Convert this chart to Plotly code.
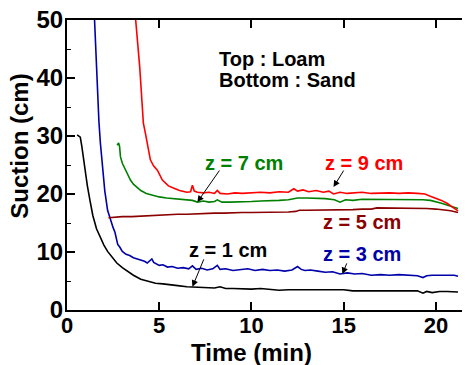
import plotly.graph_objects as go

# ---- data (time in min, suction in cm) ----
t_z1 = [0.55,0.72,0.8,0.9,1.0,1.1,1.25,1.4,1.6,1.8,2.0,2.2,2.4,2.7,3.0,3.3,3.6,4.0,4.4,4.8,
        5.2,5.6,6.0,6.5,7.0,7.5,8.0,8.3,8.6,9.0,9.5,10,10.5,11,11.5,12,12.5,13,13.5,14,
        14.5,15,15.5,16,16.5,17,17.5,18,18.5,19,19.3,19.5,19.8,20.2,20.6,21.0,21.2]
s_z1 = [30.2,29.8,28.3,25.9,23.5,21.5,18.8,16.3,14.0,12.5,11.2,10.1,9.3,8.1,7.3,6.6,6.0,5.3,4.9,4.6,
        4.5,4.4,4.2,4.0,3.9,3.9,3.8,4.0,3.7,3.7,3.6,3.6,3.7,3.6,3.4,3.5,3.5,3.5,3.4,3.5,
        3.4,3.5,3.3,3.3,3.4,3.3,3.3,3.3,3.3,3.3,2.9,3.2,3.0,3.2,3.2,3.1,3.1]

t_z3 = [1.48,1.58,1.65,1.73,1.81,1.9,1.97,2.05,2.12,2.2,2.3,2.4,2.5,2.6,2.68,2.75,2.85,3.0,3.2,3.4,
        3.6,3.8,4.0,4.2,4.35,4.5,4.6,4.7,4.85,5.0,5.2,5.45,5.7,6.0,6.3,6.6,6.8,6.9,7.0,7.3,
        7.6,7.9,8.15,8.3,8.6,9.0,9.4,9.8,10.2,10.6,11.0,11.4,11.8,12.2,12.5,12.7,12.9,13.2,13.6,14.0,
        14.4,14.8,15.2,15.6,16.0,16.5,17.0,17.5,18.0,18.5,19.0,19.3,19.5,19.8,20.1,20.5,21.0,21.2]
s_z3 = [51,43,36.2,32.5,28.8,25.5,22.4,20.5,19.0,17.2,16.2,15.0,14.2,13.4,12.3,11.3,10.9,10.1,9.6,9.4,
        9.0,8.8,8.5,8.4,8.1,8.5,8.8,8.2,7.9,7.7,7.8,7.4,7.5,7.2,7.3,7.1,7.6,7.2,7.0,7.2,
        6.9,7.1,7.7,7.0,7.1,6.8,6.9,7.1,6.8,7.0,6.8,6.9,6.7,6.9,7.5,7.0,6.8,6.9,6.7,6.5,
        6.6,6.2,6.4,6.2,6.3,6.0,6.1,6.0,6.1,6.0,5.9,5.6,5.9,6.0,6.0,6.0,6.0,5.8]

t_z5 = [2.25,2.5,3,3.5,4,4.5,5,5.5,6,6.5,7,7.5,8,8.5,9,9.5,10,10.5,11,11.5,
        12,12.4,12.6,13,13.5,14,14.5,15,15.5,16,16.5,16.8,17,17.5,18,18.5,19,19.5,20,20.4,
        20.8,21.2]
s_z5 = [15.9,16.0,16.1,16.1,16.2,16.3,16.4,16.4,16.5,16.5,16.6,16.6,16.7,16.7,16.8,16.8,16.8,16.8,16.9,16.9,
        16.9,17.0,17.2,17.2,17.2,17.3,17.3,17.3,17.3,17.4,17.4,17.6,17.6,17.6,17.6,17.5,17.6,17.5,17.4,17.3,
        17.1,16.8]

t_z7 = [2.72,2.8,2.85,2.9,3.0,3.17,3.3,3.44,3.6,3.8,4.0,4.3,4.6,5.0,5.4,5.8,6.2,6.5,6.8,7.07,
        7.4,7.7,8.0,8.15,8.4,8.8,9.2,9.6,10,10.5,11,11.5,12,12.5,13,13.5,14,14.5,14.8,15.1,
        15.5,16,16.5,17,17.5,18,18.5,19,19.3,19.7,20.0,20.3,20.6,20.9,21.2]
s_z7 = [28.4,28.8,28.2,26.4,25.3,24.1,23.2,22.4,21.7,21.1,20.6,20.1,19.8,19.5,19.3,19.2,19.0,19.0,18.9,18.6,
        18.8,18.6,18.7,19.0,18.6,18.6,18.6,18.7,18.7,18.8,18.8,18.9,19.0,19.3,19.3,19.3,19.2,19.0,18.6,19.0,
        18.9,19.1,19.1,19.1,19.1,19.1,19.1,19.1,19.0,18.9,18.7,18.4,18.1,17.8,17.5]

t_z9 = [3.71,3.8,3.88,3.94,4.0,4.07,4.14,4.25,4.35,4.52,4.7,4.9,5.17,5.5,5.8,6.1,6.5,6.7,6.8,6.9,
        7.07,7.4,7.7,8.0,8.15,8.3,8.7,9.1,9.5,10,10.5,11,11.5,12,12.3,12.5,12.8,13.1,13.5,13.9,
        14.2,14.45,14.8,15.2,15.6,16,16.5,17,17.5,18,18.5,19,19.4,19.7,20.0,20.3,20.6,20.9,21.2]
s_z9 = [50.5,47.5,44.8,42,39.1,35.5,32.2,30.5,28.8,25.9,24.8,24.1,22.4,21.4,21.0,20.6,20.3,20.4,21.5,20.5,
        20.3,20.2,20.3,20.1,20.6,20.1,20.0,20.2,20.1,20.2,20.3,20.2,20.4,20.3,20.9,20.5,20.7,20.4,20.6,20.3,
        20.5,20.0,20.3,20.1,20.2,20.3,20.1,20.2,20.2,20.1,20.2,20.1,20.0,19.6,19.3,18.9,18.4,17.8,17.1]

x_ticks = [0, 5, 10, 15, 20]
y_ticks = [0, 10, 20, 30, 40, 50]

C_BLACK = "#000000"
C_BLUE = "#0000a8"
C_DRED = "#8b0000"
C_GREEN = "#008000"
C_RED = "#ff0000"

FONT = "Liberation Sans, Arial, sans-serif"

fig = go.Figure()
for t, s, c in [(t_z1, s_z1, C_BLACK), (t_z3, s_z3, C_BLUE), (t_z5, s_z5, C_DRED),
                (t_z7, s_z7, C_GREEN), (t_z9, s_z9, C_RED)]:
    fig.add_trace(go.Scatter(x=t, y=s, mode="lines", line=dict(color=c, width=1.6),
                             showlegend=False, hoverinfo="skip"))

def label(text, x, y, color, size=20):
    fig.add_annotation(x=x, y=y, xref="x", yref="y", text=text, showarrow=False,
                       xanchor="left", yanchor="middle",
                       font=dict(family=FONT, size=size, color=color, weight="bold"))

label("Top : Loam", 8.15, 43.2, "black")
label("Bottom : Sand", 8.15, 39.6, "black")
label("z = 7 cm", 7.35, 25.3, C_GREEN)
label("z = 9 cm", 13.9, 25.3, C_RED)
label("z = 5 cm", 13.75, 15.1, C_DRED)
label("z = 3 cm", 13.75, 9.6, C_BLUE)
label("z = 1 cm", 6.5, 10.3, "black")

def arrow(x0, y0, x1, y1):
    fig.add_annotation(x=x1, y=y1, ax=x0, ay=y0, xref="x", yref="y", axref="x", ayref="y",
                       text="", showarrow=True, arrowhead=2, arrowsize=1.3, arrowwidth=1,
                       arrowcolor="black")

arrow(8.32, 24.3, 7.07, 18.6)
arrow(15.05, 24.3, 14.45, 21.2)
arrow(7.45, 9.0, 6.8, 4.0)
arrow(15.2, 8.3, 14.93, 6.2)

# axis titles
fig.add_annotation(x=0.457, y=-0.145, xref="paper", yref="paper", text="Time (min)",
                   showarrow=False, xanchor="center", yanchor="middle",
                   font=dict(family=FONT, size=24, weight="bold", color="black"))
fig.add_annotation(x=-0.117, y=0.566, xref="paper", yref="paper", text="Suction (cm)",
                   showarrow=False, xanchor="center", yanchor="middle", textangle=-90,
                   borderpad=0,
                   font=dict(family=FONT, size=24, weight="bold", color="black"))

# page has an 8px body margin, so the figure is 8px smaller than the window
fig.update_layout(
    width=462, height=357,
    margin=dict(l=59, r=0, t=12, b=55),
    paper_bgcolor="white", plot_bgcolor="white",
    font=dict(family=FONT, color="black"),
    xaxis=dict(range=[0, 21.85], tickvals=x_ticks, ticks="inside", ticklen=8, tickwidth=1.5,
               tickcolor="black", showline=True, linewidth=2, linecolor="black", mirror="ticks",
               showgrid=False, zeroline=False, automargin=False, ticklabelstandoff=-5,
               tickfont=dict(family=FONT, size=22, weight="bold")),
    yaxis=dict(range=[0, 50], tickvals=y_ticks, ticks="inside", ticklen=8, tickwidth=1.5,
               tickcolor="black", showline=True, linewidth=2, linecolor="black", mirror="ticks",
               showgrid=False, zeroline=False, automargin=False, ticklabelstandoff=-3,
               ticklabeloverflow="allow",
               minor=dict(dtick=5, ticks="inside", ticklen=4, tickwidth=1, tickcolor="black"),
               tickfont=dict(family=FONT, size=24, weight="bold")),
)

fig.write_html("out.html")
